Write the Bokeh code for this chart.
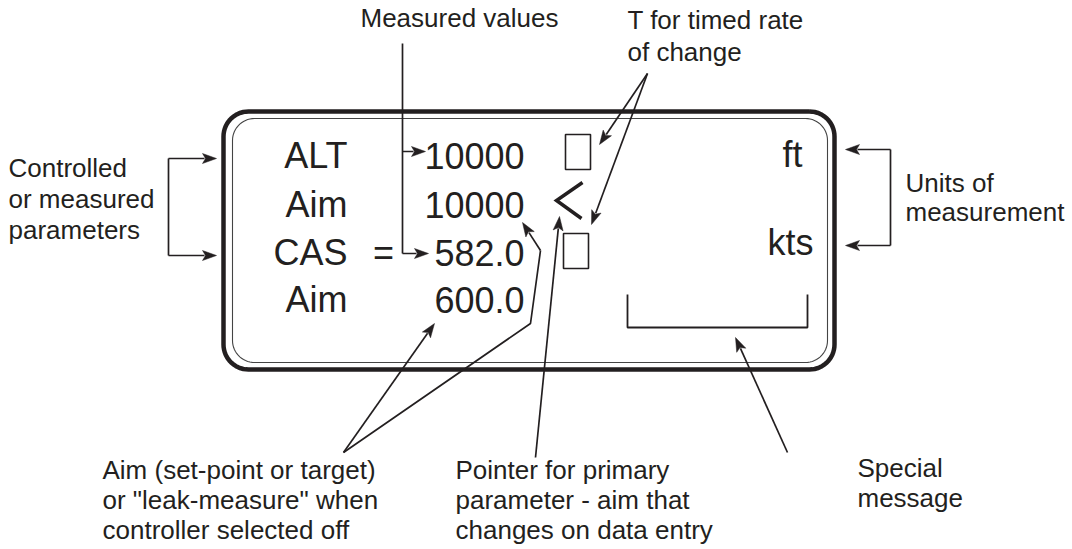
import numpy as np
from bokeh.plotting import figure
from bokeh.models import Range1d
from bokeh.core.properties import value
from bokeh.embed import file_html
from bokeh.resources import INLINE

# ---------------- data (diagram content) ----------------
param_labels = ["ALT", "Aim", "CAS", "Aim"]
param_values = ["10000", "10000", "582.0", "600.0"]
row_baselines = [155, 204, 252, 299]
label_right_x = 347
value_right_x = 524
equals_text = "="
equals_x = 383
equals_row = 2

unit_labels = ["ft", "kts"]
unit_right_x = [802, 813]
unit_baselines = [154, 242]

# annotation text blocks: (lines, left x, first baseline, line spacing)
note_texts = [
    ["Measured values"],
    ["T for timed rate", "of change"],
    ["Controlled", "or measured", "parameters"],
    ["Units of", "measurement"],
    ["Aim (set-point or target)", "or \"leak-measure\" when", "controller selected off"],
    ["Pointer for primary", "parameter - aim that", "changes on data entry"],
    ["Special", "message"],
]
note_x = [360, 627, 8, 905, 102, 455, 857]
note_y0 = [17, 19, 167, 182, 469, 469, 467]
note_dy = [30, 32, 31, 29, 30, 30, 30]

# display box geometry
outer_box = dict(left=223, top=111, right=834, bottom=369, r=25)
inner_box = dict(left=232, top=118, right=827, bottom=362, r=22)

# indicator rectangles (T markers)
t_boxes_left = [565, 563]
t_boxes_right = [590, 588]
t_boxes_top = [134, 233]
t_boxes_bottom = [169, 268]

# pointer chevron "<"
chevron_x = [582, 556, 581]
chevron_y = [182, 200, 218]

# special message bracket
msg_x = [627, 627, 807, 807]
msg_y = [294, 327, 327, 294]

# plain connector lines (no heads)
plain_lines = [
    ([402, 402], [43, 253]),             # measured values trunk
    ([343, 530, 540], [452, 323, 250]),  # aim second branch
    ([168, 168], [158, 255]),            # left bracket
    ([890, 890], [149, 245]),            # right bracket
]
# arrows: (from, to) with head at "to"
arrows = [
    ((168, 158), (216, 158)),
    ((168, 255), (216, 255)),
    ((890, 149), (845, 149)),
    ((890, 245), (845, 245)),
    ((402, 151), (425, 151)),
    ((402, 253), (428, 253)),
    ((647, 73), (599, 144)),
    ((647, 73), (591, 224)),
    ((343, 452), (434, 323)),
    ((540, 250), (522, 222)),
    ((535, 457), (559, 216)),
    ((787, 452), (735, 337)),
]

# ---------------- drawing ----------------
W, H = 1072, 549
p = figure(width=W, height=H, output_backend="svg", toolbar_location=None,
           x_range=Range1d(0, W), y_range=Range1d(H, 0),
           min_border=0, outline_line_color=None)
p.axis.visible = False
p.grid.visible = False
p.background_fill_color = "white"
p.border_fill_color = "white"

INK = "#231f20"
FONT = value("Liberation Sans")


def rounded_rect(b, n=16):
    l, t, r, bt, rad = b["left"], b["top"], b["right"], b["bottom"], b["r"]
    xs, ys = [], []
    corners = [
        (r - rad, t + rad, -np.pi / 2, 0),
        (r - rad, bt - rad, 0, np.pi / 2),
        (l + rad, bt - rad, np.pi / 2, np.pi),
        (l + rad, t + rad, np.pi, 1.5 * np.pi),
    ]
    for cx, cy, a0, a1 in corners:
        a = np.linspace(a0, a1, n)
        xs.extend(cx + rad * np.cos(a))
        ys.extend(cy + rad * np.sin(a))
    xs.append(xs[0]); ys.append(ys[0])
    return xs, ys


ox, oy = rounded_rect(outer_box)
p.line(ox, oy, line_color=INK, line_width=4.5)
ix, iy = rounded_rect(inner_box)
p.line(ix, iy, line_color="#444444", line_width=1.1)

# T boxes
p.quad(left=t_boxes_left, right=t_boxes_right, top=t_boxes_top, bottom=t_boxes_bottom,
       fill_color=None, line_color=INK, line_width=1.6)
# chevron
p.line(chevron_x, chevron_y, line_color=INK, line_width=3.5, line_join="miter")
# message bracket
p.line(msg_x, msg_y, line_color=INK, line_width=1.8)

# connector lines
for xs, ys in plain_lines:
    p.line(xs, ys, line_color=INK, line_width=1.7)

# arrows
head_len, head_half = 14, 5
hx, hy = [], []
for (x0, y0), (x1, y1) in arrows:
    d = np.array([x1 - x0, y1 - y0], dtype=float)
    L = np.hypot(*d)
    u = d / L
    nvec = np.array([-u[1], u[0]])
    base = np.array([x1, y1]) - u * head_len
    p.line([x0, base[0] + u[0] * 2], [y0, base[1] + u[1] * 2], line_color=INK, line_width=1.7)
    pts = [np.array([x1, y1]), base + nvec * head_half, base + u * 3, base - nvec * head_half]
    hx.append([q[0] for q in pts]); hy.append([q[1] for q in pts])
p.patches(hx, hy, fill_color=INK, line_color=INK, line_width=0.5)

# display texts
big = dict(text_font=FONT, text_font_size="36px", text_color=INK, text_baseline="alphabetic")
p.text(x=[label_right_x] * 4, y=row_baselines, text=param_labels, text_align="right", **big)
p.text(x=[value_right_x] * 4, y=row_baselines, text=param_values, text_align="right", **big)
p.text(x=[equals_x], y=[row_baselines[equals_row]], text=[equals_text], text_align="center", **big)
p.text(x=unit_right_x, y=unit_baselines, text=unit_labels, text_align="right", **big)

# annotation notes
nx, ny, nt = [], [], []
for lines, x, y0, dy in zip(note_texts, note_x, note_y0, note_dy):
    for i, s in enumerate(lines):
        nx.append(x); ny.append(y0 + i * dy); nt.append(s)
p.text(x=nx, y=ny, text=nt, text_font=FONT, text_font_size="26px", text_color=INK,
       text_baseline="alphabetic", text_align="left")

open("out.html", "w").write(file_html(p, INLINE))
